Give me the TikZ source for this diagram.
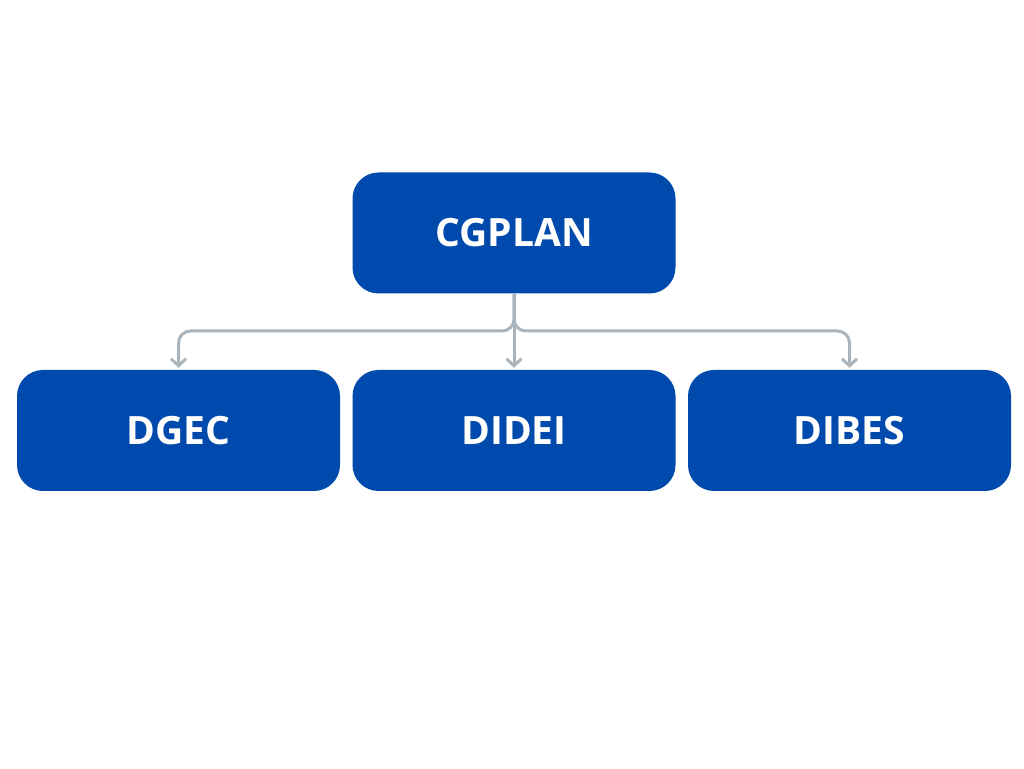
\documentclass[tikz,border=0pt]{standalone}
\usepackage{fontspec}
\setmainfont{Open Sans}
\usetikzlibrary{arrows.meta}
\definecolor{boxblue}{HTML}{004AAD}
\definecolor{linegray}{HTML}{AAB4BC}
\begin{document}
\begin{tikzpicture}[x=1pt,y=1pt,
  orgbox/.style={fill=boxblue,rounded corners=26pt,minimum width=323pt,minimum height=121pt,
    inner sep=0pt,text=white,font=\fontsize{39}{46}\selectfont\bfseries},
  conn/.style={draw=linegray,line width=3pt,rounded corners=12pt,
    -{Straight Barb[length=7pt,width=15pt,line width=3pt]},shorten >=2pt}]
\useasboundingbox (0,0) rectangle (1024,768);
\node[orgbox] (top) at (514,535) {CGPLAN};
\node[orgbox] (dgec) at (178.5,337.5) {DGEC};
\node[orgbox] (didei) at (514,337.5) {DIDEI};
\node[orgbox] (dibes) at (849.5,337.5) {DIBES};
\coordinate (mid) at (514,437);
\draw[conn] (top.south) -- (mid) -| (dgec.north);
\draw[conn] (top.south) -- (mid) -| (dibes.north);
\draw[conn] (top.south) -- (didei.north);
\end{tikzpicture}
\end{document}
